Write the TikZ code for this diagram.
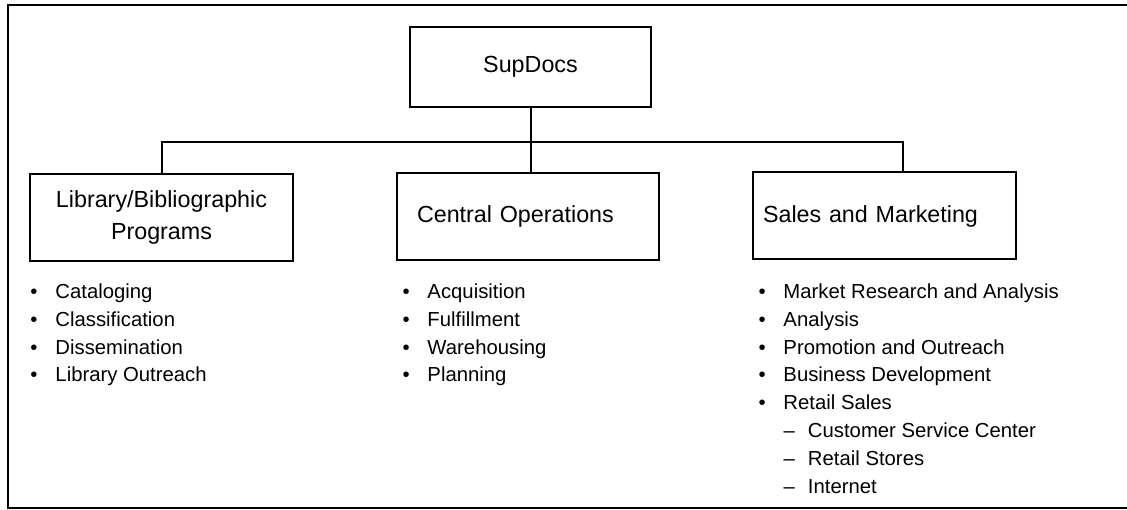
\documentclass[tikz,border=0pt]{standalone}
\usepackage{fontspec}
\setmainfont{Liberation Sans}
\usetikzlibrary{positioning}
\newcommand{\itm}[1]{\makebox[25pt][l]{•}#1}
\newcommand{\subitm}[1]{\hspace*{25pt}\makebox[24.5pt][l]{–}#1}
\begin{document}
\begin{tikzpicture}[x=1pt, y=-1pt, line width=2pt, line join=miter,
	box/.style={draw, inner ysep=0pt, minimum height=87pt, font=\fontsize{23.3}{32.5}\selectfont},
	items/.style={anchor=base west, inner sep=0pt, font=\fontsize{20.3}{27.8}\selectfont}]
	\useasboundingbox (0,0) rectangle (1127,510);
	% frame, its right side runs off the page
	\draw (8,5) rectangle (1140,508);
	% boxes
	\node[box, minimum width=241pt, minimum height=80pt] (sup) at (530.5,67) {SupDocs};
	\node[box, inner xsep=0pt, text width=263pt, align=center] (lib) at (161.5,217.5)
		{Library/Bibliographic\hspace*{31pt}\\Programs\hspace*{13pt}};
	\node[box, inner xsep=20pt, text width=222pt, align=left] (cen) at (528,216.5) {Central Operations};
	\node[box, inner xsep=10pt, text width=243pt, align=left] (sal) at (884.5,216) {Sales and Marketing};
	% tree lines
	\coordinate (bar) at (0,142);
	\coordinate (saltop) at ([xshift=18.5pt]sal.north);
	\draw (lib.north) -- (lib.north |- bar) -- (saltop |- bar) -- (saltop);
	\draw (sup.south) -- (sup.south |- cen.north);
	% lists
	\node[items] (libitems) at (29.5,298.5) {\begin{tabular}[t]{@{}l@{}}
		\itm{Cataloging}\\ \itm{Classification}\\ \itm{Dissemination}\\ \itm{Library Outreach}
		\end{tabular}};
	\node[items] (cenitems) at (401.5,298.5) {\begin{tabular}[t]{@{}l@{}}
		\itm{Acquisition}\\ \itm{Fulfillment}\\ \itm{Warehousing}\\ \itm{Planning}
		\end{tabular}};
	\node[items] (salitems) at (757.5,298.5) {\begin{tabular}[t]{@{}l@{}}
		\itm{Market Research and Analysis}\\ \itm{Analysis}\\ \itm{Promotion and Outreach}\\
		\itm{Business Development}\\ \itm{Retail Sales}\\
		\subitm{Customer Service Center}\\ \subitm{Retail Stores}\\ \subitm{Internet}
		\end{tabular}};
\end{tikzpicture}
\end{document}
